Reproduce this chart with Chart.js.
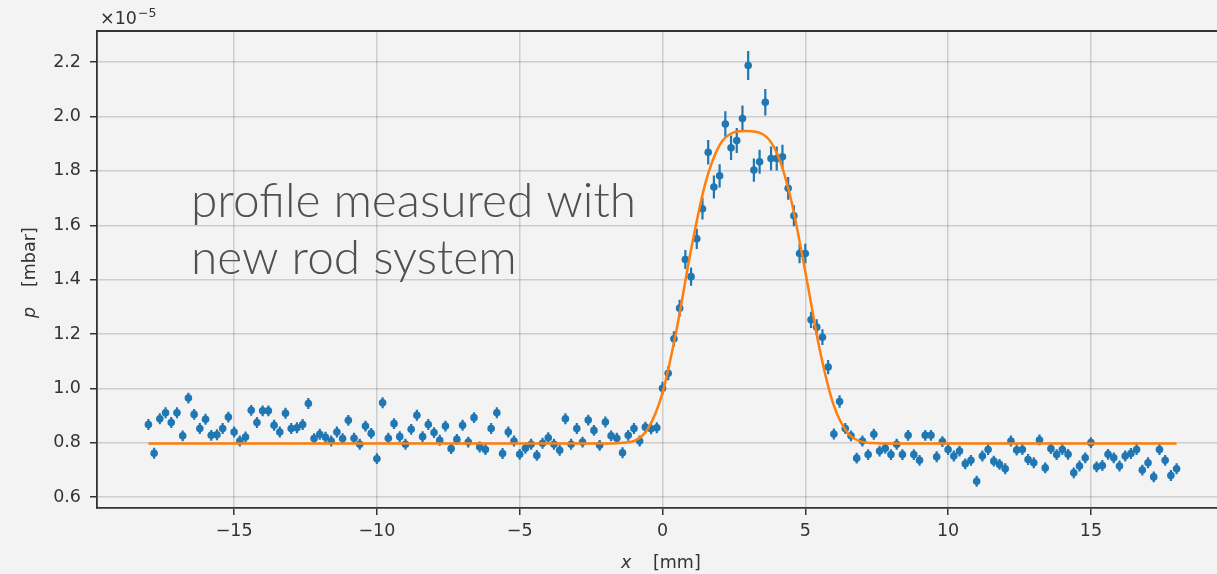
<!DOCTYPE html>
<html><head><meta charset="utf-8">
<script src="https://cdn.jsdelivr.net/npm/chart.js@4/dist/chart.umd.min.js"></script>
<style>
html,body{margin:0;padding:0;background:#f3f3f3;overflow:hidden;width:1217px;height:574px}
canvas{display:block}
</style></head>
<body>
<canvas id="c" width="1240" height="574" style="width:1240px;height:574px"></canvas>
<script>
// position x [mm]
const xPositions = [
-18,-17.8,-17.6,-17.4,-17.2,-17,-16.8,-16.6,-16.4,-16.2,
-16,-15.8,-15.6,-15.4,-15.2,-15,-14.8,-14.6,-14.4,-14.2,
-14,-13.8,-13.6,-13.4,-13.2,-13,-12.8,-12.6,-12.4,-12.2,
-12,-11.8,-11.6,-11.4,-11.2,-11,-10.8,-10.6,-10.4,-10.2,
-10,-9.8,-9.6,-9.4,-9.2,-9,-8.8,-8.6,-8.4,-8.2,
-8,-7.8,-7.6,-7.4,-7.2,-7,-6.8,-6.6,-6.4,-6.2,
-6,-5.8,-5.6,-5.4,-5.2,-5,-4.8,-4.6,-4.4,-4.2,
-4,-3.8,-3.6,-3.4,-3.2,-3,-2.8,-2.6,-2.4,-2.2,
-2,-1.8,-1.6,-1.4,-1.2,-1,-0.8,-0.6,-0.4,-0.2,
0,0.2,0.4,0.6,0.8,1,1.2,1.4,1.6,1.8,
2,2.2,2.4,2.6,2.8,3,3.2,3.4,3.6,3.8,
4,4.2,4.4,4.6,4.8,5,5.2,5.4,5.6,5.8,
6,6.2,6.4,6.6,6.8,7,7.2,7.4,7.6,7.8,
8,8.2,8.4,8.6,8.8,9,9.2,9.4,9.6,9.8,
10,10.2,10.4,10.6,10.8,11,11.2,11.4,11.6,11.8,
12,12.2,12.4,12.6,12.8,13,13.2,13.4,13.6,13.8,
14,14.2,14.4,14.6,14.8,15,15.2,15.4,15.6,15.8,
16,16.2,16.4,16.6,16.8,17,17.2,17.4,17.6,17.8,
18];

// measured pressure p [1e-5 mbar]
const pValues = [
0.867,0.761,0.888,0.910,0.874,0.910,0.825,0.964,0.904,0.852,
0.886,0.827,0.829,0.852,0.894,0.839,0.806,0.821,0.919,0.874,
0.917,0.917,0.864,0.839,0.908,0.852,0.855,0.867,0.944,0.815,
0.831,0.820,0.806,0.839,0.815,0.882,0.816,0.794,0.861,0.834,
0.741,0.947,0.816,0.870,0.822,0.794,0.849,0.901,0.822,0.867,
0.837,0.809,0.861,0.778,0.812,0.864,0.802,0.892,0.784,0.775,
0.852,0.910,0.760,0.839,0.806,0.757,0.779,0.794,0.753,0.798,
0.818,0.794,0.772,0.888,0.794,0.852,0.802,0.883,0.845,0.790,
0.876,0.825,0.816,0.763,0.827,0.852,0.806,0.857,0.851,0.855,
1.000,1.055,1.182,1.295,1.474,1.411,1.550,1.661,1.869,1.741,
1.782,1.973,1.885,1.912,1.993,2.188,1.803,1.834,2.053,1.846,
1.846,1.852,1.736,1.635,1.496,1.496,1.252,1.225,1.188,1.078,
0.832,0.951,0.852,0.825,0.743,0.806,0.756,0.831,0.769,0.779,
0.756,0.794,0.756,0.827,0.756,0.735,0.827,0.827,0.748,0.804,
0.775,0.751,0.769,0.722,0.735,0.658,0.751,0.775,0.732,0.720,
0.704,0.806,0.773,0.775,0.738,0.726,0.810,0.707,0.778,0.756,
0.775,0.757,0.689,0.714,0.744,0.800,0.711,0.716,0.757,0.744,
0.714,0.751,0.760,0.775,0.699,0.726,0.674,0.775,0.735,0.679,
0.704];

// error bar half-lengths [1e-5 mbar]
const pErrors = [
0.02,0.02,0.02,0.02,0.02,0.02,0.02,0.02,0.02,0.02,
0.02,0.02,0.02,0.02,0.02,0.02,0.02,0.02,0.02,0.02,
0.02,0.02,0.02,0.02,0.02,0.02,0.02,0.02,0.02,0.02,
0.02,0.02,0.02,0.02,0.02,0.02,0.02,0.02,0.02,0.02,
0.02,0.02,0.02,0.02,0.02,0.02,0.02,0.02,0.02,0.02,
0.02,0.02,0.02,0.02,0.02,0.02,0.02,0.02,0.02,0.02,
0.02,0.02,0.02,0.02,0.02,0.02,0.02,0.02,0.02,0.02,
0.02,0.02,0.02,0.02,0.02,0.02,0.02,0.02,0.02,0.02,
0.02,0.02,0.02,0.02,0.02,0.02,0.02,0.02,0.02,0.02,
0.024,0.025,0.028,0.031,0.035,0.034,0.037,0.040,0.045,0.042,
0.043,0.047,0.045,0.046,0.048,0.053,0.043,0.044,0.049,0.044,
0.044,0.044,0.042,0.039,0.036,0.036,0.030,0.029,0.029,0.026,
0.02,0.023,0.02,0.02,0.02,0.02,0.02,0.02,0.02,0.02,
0.02,0.02,0.02,0.02,0.02,0.02,0.02,0.02,0.02,0.02,
0.02,0.02,0.02,0.02,0.02,0.02,0.02,0.02,0.02,0.02,
0.02,0.02,0.02,0.02,0.02,0.02,0.02,0.02,0.02,0.02,
0.02,0.02,0.02,0.02,0.02,0.02,0.02,0.02,0.02,0.02,
0.02,0.02,0.02,0.02,0.02,0.02,0.02,0.02,0.02,0.02,
0.02];

// fitted profile (orange curve)
const fitX = [-18,-2,-1.5,-1,-0.5,0,0.5,1,1.5,2,2.5,2.93,3.5,4,4.5,5,5.5,6,6.5,7,7.5,8,18];
const fitY = [0.797,0.797,0.799,0.806,0.853,0.983,1.22,1.51,1.754,1.895,1.942,1.947,1.936,1.867,1.695,1.429,1.145,0.936,0.834,0.803,0.798,0.797,0.797];

const xTickValues = [-15,-10,-5,0,5,10,15];
const xTickLabels = ['\u221215','\u221210','\u22125','0','5','10','15'];
const yTickValues = [0.6,0.8,1.0,1.2,1.4,1.6,1.8,2.0,2.2];
const yTickLabels = ['0.6','0.8','1.0','1.2','1.4','1.6','1.8','2.0','2.2'];

const offsetText = ['\u00d710', '\u22125'];
const xTitle = ['x', '[mm]'];
const yTitle = ['p', '[mbar]'];
const annotationLines = ['profile measured with', 'new rod system'];

const bgPlugin = {
  id: 'bg',
  beforeDraw(chart) {
    const ctx = chart.ctx;
    ctx.save();
    ctx.fillStyle = '#f3f3f3';
    ctx.fillRect(0, 0, chart.width, chart.height);
    ctx.restore();
  }
};

const errPlugin = {
  id: 'errbars',
  beforeDatasetsDraw(chart) {
    const xs = chart.scales.x, ys = chart.scales.y, ctx = chart.ctx;
    ctx.save();
    ctx.strokeStyle = '#1f77b4';
    ctx.lineWidth = 2.2;
    ctx.beginPath();
    for (let i = 0; i < pValues.length; i++) {
      const px = xs.getPixelForValue(xPositions[i]);
      ctx.moveTo(px, ys.getPixelForValue(pValues[i] - pErrors[i]));
      ctx.lineTo(px, ys.getPixelForValue(pValues[i] + pErrors[i]));
    }
    ctx.stroke();
    ctx.restore();
  }
};

const textPlugin = {
  id: 'texts',
  afterDraw(chart) {
    const ctx = chart.ctx, ca = chart.chartArea;
    ctx.save();
    // top and right spines
    ctx.strokeStyle = '#333';
    ctx.lineWidth = 1.8;
    ctx.beginPath();
    ctx.moveTo(ca.left, ca.top);
    ctx.lineTo(ca.right, ca.top);
    ctx.lineTo(ca.right, ca.bottom);
    ctx.stroke();

    ctx.fillStyle = '#333';
    ctx.textAlign = 'left';
    ctx.textBaseline = 'alphabetic';
    // offset text x10^-5
    ctx.font = '17.5px "DejaVu Sans"';
    ctx.fillText(offsetText[0], 100, 24);
    const w = ctx.measureText(offsetText[0]).width;
    ctx.font = '12.5px "DejaVu Sans"';
    ctx.fillText(offsetText[1], 100 + w + 1, 17);

    // x axis title
    ctx.font = 'italic 17.5px "DejaVu Sans"';
    ctx.fillText(xTitle[0], 621, 568);
    ctx.font = '17.5px "DejaVu Sans"';
    ctx.fillText(xTitle[1], 653, 568);

    // y axis title
    ctx.save();
    ctx.translate(35, 318);
    ctx.rotate(-Math.PI / 2);
    ctx.font = 'italic 17.5px "DejaVu Sans"';
    ctx.fillText(yTitle[0], 0, 0);
    ctx.font = '17.5px "DejaVu Sans"';
    ctx.fillText(yTitle[1], 31, 0);
    ctx.restore();

    // annotation
    ctx.fillStyle = '#505050';
    ctx.font = '300 47.8px Lato';
    ctx.fillText(annotationLines[0], 191, 217);
    ctx.fillText(annotationLines[1], 191, 274);
    ctx.restore();
  }
};

new Chart(document.getElementById('c'), {
  type: 'scatter',
  data: {
    datasets: [
      {
        type: 'line',
        data: fitX.map((x, i) => ({x: x, y: fitY[i]})),
        borderColor: '#ff7f0e',
        borderWidth: 2.5,
        pointRadius: 0,
        cubicInterpolationMode: 'monotone',
        fill: false,
        order: 0
      },
      {
        type: 'scatter',
        data: xPositions.map((x, i) => ({x: x, y: pValues[i]})),
        backgroundColor: '#1f77b4',
        borderColor: '#1f77b4',
        borderWidth: 0,
        pointRadius: 3.8,
        order: 1
      }
    ]
  },
  options: {
    responsive: false,
    animation: false,
    devicePixelRatio: 1,
    layout: {padding: {top: 31, right: 12, left: 0, bottom: 0}},
    plugins: {legend: {display: false}, tooltip: {enabled: false}},
    scales: {
      x: {
        type: 'linear',
        min: -19.8, max: 19.8,
        afterBuildTicks: s => { s.ticks = xTickValues.map(v => ({value: v})); },
        afterFit: s => { s.height = 66; },
        ticks: {
          callback: (v, i) => xTickLabels[i],
          font: {family: 'DejaVu Sans', size: 17.5},
          color: '#333', padding: 6, maxRotation: 0, autoSkip: false
        },
        grid: {color: 'rgba(0,0,0,0.15)', lineWidth: 1.5, tickColor: '#333', tickLength: 7, tickWidth: 1.5},
        border: {color: '#333', width: 1.8}
      },
      y: {
        type: 'linear',
        min: 0.5595, max: 2.315,
        afterBuildTicks: s => { s.ticks = yTickValues.map(v => ({value: v})); },
        afterFit: s => { s.width = 97; },
        ticks: {
          callback: (v, i) => yTickLabels[i],
          font: {family: 'DejaVu Sans', size: 17.5},
          color: '#333', padding: 9, autoSkip: false
        },
        grid: {color: 'rgba(0,0,0,0.15)', lineWidth: 1.5, tickColor: '#333', tickLength: 7, tickWidth: 1.5},
        border: {color: '#333', width: 1.8}
      }
    }
  },
  plugins: [bgPlugin, errPlugin, textPlugin]
});
</script>
</body></html>
